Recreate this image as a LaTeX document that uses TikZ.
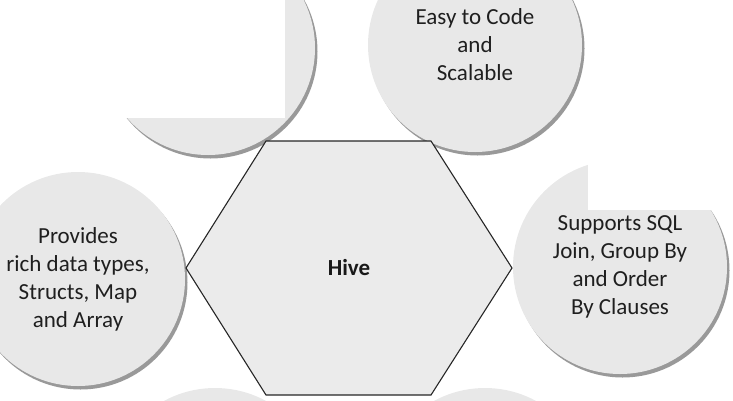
\documentclass[tikz,border=0pt]{standalone}
\usepackage{fontspec}
\setmainfont{Carlito}
\usetikzlibrary{shadows}

\begin{document}
\begin{tikzpicture}[x=1pt, y=-1pt,
  feature/.style={circle, fill=black!9, minimum size=214pt, inner sep=0pt, align=center,
    text=black!88, font=\fontsize{23}{28}\selectfont,
    drop shadow={shadow xshift=2.5pt, shadow yshift=-3.5pt, fill=black!40, opacity=1}},
  hive/.style={fill=black!8, draw=black!85, line width=1.1pt, line join=miter}]
\clip (0,0) rectangle (733,400);

% features round the hexagon
\node[feature] (tl) at (208,48) {};
\node[feature] (tr) at (475,45) {Easy to Code\\and\\Scalable};
\node[feature] (l)  at (78,279) {Provides\\rich data types,\\Structs, Map\\and Array};
\node[feature] (r)  at (620,267) {Supports SQL\\Join, Group By\\and Order\\By Clauses};
\node[feature] (bl) at (215,495) {};
\node[feature] (br) at (485,495) {};

% cut-away corners
\fill[white] (0,0) rectangle (285,118);
\fill[white] (588,0) rectangle (733,210);

% centre
\draw[hive] (186,268) -- (266,141) -- (431,141) -- (512,268) -- (431,395) -- (266,395) -- cycle;
\node[font=\bfseries\fontsize{23}{28}\selectfont, text=black!90] (h) at (349,268) {Hive};
\end{tikzpicture}
\end{document}
